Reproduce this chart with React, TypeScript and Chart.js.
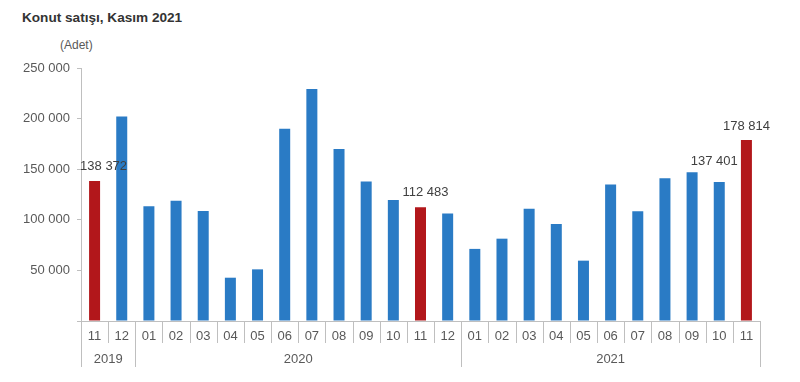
import React, { useEffect, useRef } from "react";
import { Chart, registerables } from "chart.js";

Chart.register(...registerables);

const months = ["11", "12", "01", "02", "03", "04", "05", "06", "07", "08", "09", "10", "11", "12", "01", "02", "03", "04", "05", "06", "07", "08", "09", "10", "11"];
const years = ["2019", "2019", "2020", "2020", "2020", "2020", "2020", "2020", "2020", "2020", "2020", "2020", "2020", "2020", "2021", "2021", "2021", "2021", "2021", "2021", "2021", "2021", "2021", "2021", "2021"];
const sales = [138372, 202072, 113402, 118753, 108670, 42783, 51035, 190012, 229357, 170046, 137740, 119636, 112483, 106277, 71248, 81346, 111030, 95733, 59628, 134810, 108493, 141044, 146970, 137401, 178814];
const yTicks = [0, 50000, 100000, 150000, 200000, 250000];
const labelledBars = [0, 12, 23, 24];

const BLUE = "#2a7bc5";
const RED = "#b2171b";
const GRID = "#bfbfbf";
const TEXT = "#595959";
const FONT = "'Liberation Sans', Arial, sans-serif";

// label placement offsets (dx, dy from the bar top centre)
const labelOffsets: Record<number, [number, number]> = {
  0: [9, -15],
  12: [5, -15],
  23: [-5, -21],
  24: [0, -14],
};

const fmt = (v: number) => String(v).replace(/\B(?=(\d{3})+(?!\d))/g, " ");

const decorPlugin = {
  id: "decor",
  afterDraw(chart: any) {
    const ctx = chart.ctx;
    const xs = chart.scales.x;
    const area = chart.chartArea;
    const n = months.length;
    const half = (xs.getPixelForValue(1) - xs.getPixelForValue(0)) / 2;
    const boundary = (i: number) => (i < n ? xs.getPixelForValue(i) - half : xs.getPixelForValue(n - 1) + half);
    ctx.save();
    ctx.strokeStyle = GRID;
    ctx.lineWidth = 1;
    for (let i = 0; i <= n; i++) {
      const isYear = i === 0 || i === n || years[i] !== years[i - 1];
      const x = Math.round(boundary(i)) + 0.5;
      ctx.beginPath();
      ctx.moveTo(x, area.bottom);
      ctx.lineTo(x, area.bottom + (isYear ? 46 : 22));
      ctx.stroke();
    }
    // year labels
    ctx.fillStyle = TEXT;
    ctx.font = `13px ${FONT}`;
    ctx.textAlign = "center";
    ctx.textBaseline = "middle";
    let start = 0;
    for (let i = 1; i <= n; i++) {
      if (i === n || years[i] !== years[start]) {
        const cx = (boundary(start) + boundary(i)) / 2;
        ctx.fillText(years[start], cx, area.bottom + 38);
        start = i;
      }
    }
    // value labels
    const meta = chart.getDatasetMeta(0);
    ctx.fillStyle = "#404040";
    labelledBars.forEach((i) => {
      const el = meta.data[i];
      const [dx, dy] = labelOffsets[i] || [0, -14];
      ctx.fillText(fmt(sales[i]), el.x + dx, el.y + dy);
    });
    ctx.restore();
  },
};

export default function App() {
  const ref = useRef<HTMLCanvasElement>(null);
  useEffect(() => {
    const chart = new Chart(ref.current!, {
      type: "bar",
      data: {
        labels: months,
        datasets: [
          {
            data: sales,
            backgroundColor: months.map((m) => (m === "11" ? RED : BLUE)),
            barPercentage: 0.405,
            categoryPercentage: 1,
          },
        ],
      },
      options: {
        responsive: false,
        animation: false,
        layout: { padding: { top: 68, right: 40, left: 0, bottom: 0 } },
        plugins: { legend: { display: false }, tooltip: { enabled: false }, title: { display: false } },
        scales: {
          x: {
            grid: { display: false, drawTicks: false },
            border: { display: true, color: GRID },
            ticks: { color: TEXT, font: { size: 13, family: FONT }, padding: 8, maxRotation: 0, autoSkip: false },
            afterFit: (s: any) => {
              s.height = 61;
            },
          },
          y: {
            min: 0,
            max: 250000,
            afterBuildTicks: (s: any) => {
              s.ticks = yTicks.map((v) => ({ value: v }));
            },
            grid: { display: true, drawOnChartArea: false, drawTicks: true, tickLength: 4, color: GRID },
            border: { display: true, color: GRID },
            ticks: {
              color: TEXT,
              font: { size: 13, family: FONT },
              padding: 7,
              callback: (v: any) => (Number(v) === 0 ? "" : fmt(Number(v))),
            },
            afterFit: (s: any) => {
              s.width = 81;
            },
          },
        },
      },
      plugins: [decorPlugin],
    });
    return () => chart.destroy();
  }, []);
  return (
    <div style={{ position: "absolute", left: 0, top: 0, width: 800, height: 382, background: "#fff" }}>
      <div
        style={{
          position: "absolute",
          left: 22,
          top: 10,
          font: `bold 13.6px ${FONT}`,
          color: "#333",
          whiteSpace: "nowrap",
        }}
      >
        Konut satışı, Kasım 2021
      </div>
      <div
        style={{
          position: "absolute",
          left: 60,
          top: 38,
          font: `12px ${FONT}`,
          color: TEXT,
          whiteSpace: "nowrap",
        }}
      >
        (Adet)
      </div>
      <canvas ref={ref} width={800} height={382} style={{ position: "absolute", left: 0, top: 0 }} />
    </div>
  );
}
